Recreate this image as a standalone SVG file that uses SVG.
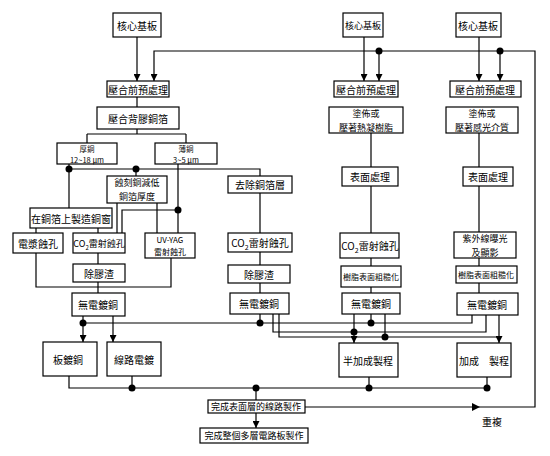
<svg xmlns="http://www.w3.org/2000/svg" width="550" height="456" viewBox="0 0 550 456">
<style>
.b{fill:#fff;stroke:#000;stroke-width:1.2}
.t{font-family:"Noto Sans CJK TC","Noto Sans CJK SC",sans-serif;font-size:10px;text-anchor:middle;dominant-baseline:central;fill:#000}
.s{font-size:8px}
.x{font-size:7.5px}
.m{font-size:9px}
.c{fill:none;stroke:#000;stroke-width:1.2}
.d{fill:#000}
</style>
<defs>
<marker id="ah" viewBox="0 0 10 10" refX="10" refY="5" markerWidth="7" markerHeight="7" markerUnits="userSpaceOnUse" orient="auto"><path d="M0,0 L10,5 L0,10 z" fill="#000"/></marker>
</defs>
<rect width="550" height="456" fill="#fff"/>
<g id="connectors">
<path class="c" d="M137,37 V81" marker-end="url(#ah)"/>
<path class="c" d="M305,407 H535 V51 H154 V81" marker-end="url(#ah)"/>
<path d="M472,403 L480,407 L472,411 z" fill="#000"/>
<path class="c" d="M137,97 V107 M137,129 V134 M87,134 H186 M87,134 V143 M186,134 V143"/>
<path class="c" d="M69,164 V208 M69,169 H260 V176 M136,169 V176"/>
<path class="c" d="M178,164 V233 M178,210 H122 V233 M117,203 V233 M157,203 V233"/>
<path class="c" d="M36,228 V233 M98,228 V233 M36,253 V287 H171 V258 M98,253 V264 M98,282 V293"/>
<path class="c" d="M83,316 V342" marker-end="url(#ah)"/>
<path class="c" d="M113,316 V342" marker-end="url(#ah)"/>
<path class="c" d="M69,376 V388 H487 M132,376 V388 M369,377 V388 M487,377 V388"/>
<path class="c" d="M256,388 V400"/>
<path class="c" d="M256,413 V428" marker-end="url(#ah)"/>
<path class="c" d="M260,193 V233 M260,252 V265 M260,283 V293"/>
<path class="c" d="M83,323 H472 V315 M260,314 V323 M273,314 V332 H486 V315 M279,314 V337 H499"/>
<path class="c" d="M364,37 V81" marker-end="url(#ah)"/>
<path class="c" d="M379,51 V81" marker-end="url(#ah)"/>
<path class="c" d="M371,133 V167 M371,186 V233 M371,258 V266 M371,287 V293 M371,314 V323 M385,314 V337"/>
<path class="c" d="M354,314 V343" marker-end="url(#ah)"/>
<path class="c" d="M479,37 V81" marker-end="url(#ah)"/>
<path class="c" d="M500,51 V81" marker-end="url(#ah)"/>
<path class="c" d="M479,133 V167 M479,186 V232 M479,258 V266 M479,283 V293"/>
<path class="c" d="M499,315 V343" marker-end="url(#ah)"/>
<g class="d">
<circle cx="69" cy="169" r="3.5"/><circle cx="136" cy="169" r="3.5"/><circle cx="178" cy="210" r="3.5"/>
<circle cx="83" cy="323" r="3.5"/><circle cx="260" cy="323" r="3.5"/><circle cx="371" cy="323" r="3.5"/>
<circle cx="354" cy="332" r="3.5"/><circle cx="385" cy="337" r="3.5"/>
<circle cx="132" cy="388" r="3.5"/><circle cx="256" cy="388" r="3.5"/><circle cx="369" cy="388" r="3.5"/><circle cx="487" cy="388" r="3.5"/>
<circle cx="379" cy="51" r="3.5"/><circle cx="500" cy="51" r="3.5"/>
</g>
<text class="t" x="492" y="421">重複</text>
</g>
<g id="core1"><rect class="b" x="113" y="13" width="48" height="24"/><text class="t" x="137" y="25">核心基板</text></g>
<g id="pre1"><rect class="b" x="107" y="81" width="62" height="16"/><text class="t" x="138" y="89">壓合前預處理</text></g>
<g id="rcc"><rect class="b" x="97" y="107" width="82" height="22"/><text class="t" x="138" y="118">壓合背膠銅箔</text></g>
<g id="thick"><rect class="b" x="57" y="143" width="60" height="21"/><text class="t x" x="87" y="148">厚銅</text><text class="t x" x="87" y="159.5">12~18 μm</text></g>
<g id="thin"><rect class="b" x="155" y="143" width="62" height="21"/><text class="t x" x="186" y="148">薄銅</text><text class="t x" x="186" y="159.5">3~5 μm</text></g>
<g id="etch"><rect class="b" x="107" y="176" width="60" height="27"/><text class="t m" x="137" y="182.5">蝕刻銅減低</text><text class="t m" x="137" y="196.5">銅箔厚度</text></g>
<g id="window"><rect class="b" x="30" y="208" width="82" height="20"/><text class="t" x="71" y="218">在銅箔上製造銅窗</text></g>
<g id="plasma"><rect class="b" x="13" y="233" width="50" height="20"/><text class="t" x="38" y="243">電漿蝕孔</text></g>
<g id="co2a"><rect class="b" x="73" y="233" width="52" height="20"/><text class="t m" x="99" y="243">CO<tspan baseline-shift="sub" font-size="6">2</tspan>雷射蝕孔</text></g>
<g id="uvyag"><rect class="b" x="145" y="233" width="50" height="25"/><text class="t s" x="170" y="239">UV-YAG</text><text class="t s" x="170" y="251.5">雷射蝕孔</text></g>
<g id="desmear1"><rect class="b" x="73" y="264" width="52" height="18"/><text class="t" x="99" y="273">除膠渣</text></g>
<g id="eless1"><rect class="b" x="72" y="293" width="53" height="23"/><text class="t" x="98" y="304">無電鍍銅</text></g>
<g id="panel"><rect class="b" x="43" y="342" width="54" height="34"/><text class="t" x="68" y="359">板鍍銅</text></g>
<g id="pattern"><rect class="b" x="107" y="342" width="54" height="34"/><text class="t" x="134" y="359">線路電鍍</text></g>
<g id="remove"><rect class="b" x="228" y="176" width="64" height="17"/><text class="t" x="260" y="184">去除銅箔層</text></g>
<g id="co2b"><rect class="b" x="228" y="233" width="64" height="19"/><text class="t" x="260" y="242">CO<tspan baseline-shift="sub" font-size="7">2</tspan>雷射蝕孔</text></g>
<g id="desmear2"><rect class="b" x="228" y="265" width="62" height="18"/><text class="t" x="259" y="274">除膠渣</text></g>
<g id="eless2"><rect class="b" x="230" y="293" width="59" height="21"/><text class="t" x="259" y="303">無電鍍銅</text></g>
<g id="core3"><rect class="b" x="343" y="13" width="40" height="24"/><text class="t m" x="363" y="25">核心基板</text></g>
<g id="pre3"><rect class="b" x="334" y="81" width="64" height="16"/><text class="t" x="366" y="89">壓合前預處理</text></g>
<g id="coat3"><rect class="b" x="329" y="107" width="74" height="26"/><text class="t m" x="366" y="113">塗佈或</text><text class="t m" x="366" y="127">壓著熱凝樹脂</text></g>
<g id="surf3"><rect class="b" x="342" y="167" width="56" height="19"/><text class="t" x="370" y="176">表面處理</text></g>
<g id="co2c"><rect class="b" x="340" y="233" width="59" height="25"/><text class="t" x="370" y="245">CO<tspan baseline-shift="sub" font-size="7">2</tspan>雷射蝕孔</text></g>
<g id="rough3"><rect class="b" x="341" y="266" width="60" height="21"/><text class="t s" x="371" y="276">樹脂表面粗糙化</text></g>
<g id="eless3"><rect class="b" x="342" y="293" width="58" height="21"/><text class="t" x="371" y="303">無電鍍銅</text></g>
<g id="sap"><rect class="b" x="339" y="343" width="59" height="34"/><text class="t" x="368" y="360">半加成製程</text></g>
<g id="core4"><rect class="b" x="456" y="13" width="45" height="24"/><text class="t" x="478" y="25">核心基板</text></g>
<g id="pre4"><rect class="b" x="450" y="81" width="71" height="16"/><text class="t" x="485" y="89">壓合前預處理</text></g>
<g id="coat4"><rect class="b" x="446" y="107" width="72" height="26"/><text class="t m" x="482" y="113">塗佈或</text><text class="t m" x="482" y="127">壓著感光介質</text></g>
<g id="surf4"><rect class="b" x="463" y="167" width="50" height="19"/><text class="t" x="488" y="176">表面處理</text></g>
<g id="uv"><rect class="b" x="454" y="232" width="62" height="26"/><text class="t m" x="485" y="238">紫外線曝光</text><text class="t m" x="485" y="252">及顯影</text></g>
<g id="rough4"><rect class="b" x="456" y="266" width="61" height="17"/><text class="t s" x="486" y="274">樹脂表面粗糙化</text></g>
<g id="eless4"><rect class="b" x="457" y="293" width="61" height="22"/><text class="t" x="487" y="304">無電鍍銅</text></g>
<g id="additive"><rect class="b" x="457" y="343" width="54" height="34"/><text class="t" x="484" y="360">加成　製程</text></g>
<g id="outer"><rect class="b" x="208" y="400" width="97" height="13"/><text class="t m" x="256" y="406">完成表面層的線路製作</text></g>
<g id="done"><rect class="b" x="200" y="428" width="108" height="15"/><text class="t m" x="254" y="435">完成整個多層電路板製作</text></g>
</svg>
